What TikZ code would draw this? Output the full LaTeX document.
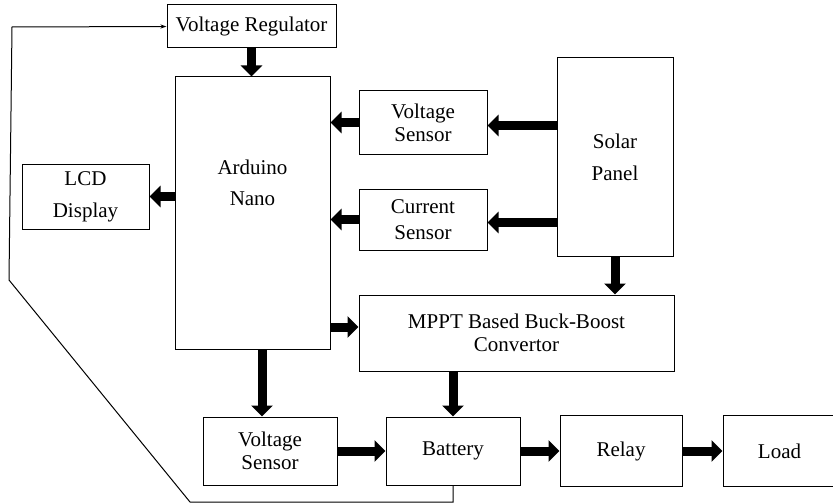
\documentclass[tikz,border=0pt]{standalone}
\usepackage{fontspec}
\setmainfont{Liberation Serif}
\usetikzlibrary{arrows.meta, positioning}

\begin{document}
\begin{tikzpicture}[x=1pt, y=-1pt, node distance=40pt]
    \tikzstyle{block} = [rectangle, draw=black, fill=white, line width=1pt, inner sep=0pt, align=center, font=\fontsize{21}{23}\selectfont]
    \tikzstyle{fat} = [line width=9pt, -{Triangle[width=21pt, length=11pt]}]
    \tikzstyle{feed} = [line width=1pt, -{Stealth[length=6pt, width=4pt]}]

    \useasboundingbox (0,0) rectangle (833,503);

    \node (vr) [block, minimum width=169pt, minimum height=43pt] at (251.5,26.5) {Voltage Regulator};
    \node (ard) [block, minimum width=155pt, minimum height=272pt, text depth=61pt] at (252.5,213) {Arduino\\[8pt]Nano};
    \node (lcd) [block, minimum width=127pt, minimum height=65pt] at (85.5,196.5) {LCD\\[9pt]Display};
    \node (vs1) [block, minimum width=128pt, minimum height=63pt] at (423,122.5) {Voltage\\Sensor};
    \node (cs) [block, minimum width=128pt, minimum height=61pt, below=34pt of vs1] {Current\\[3pt]Sensor};
    \node (sol) [block, minimum width=116pt, minimum height=198pt] at (615,157) {Solar\\[9pt]Panel};
    \node (mppt) [block, minimum width=315pt, minimum height=76pt] at (516.5,333) {MPPT Based Buck-Boost\\Convertor};

    \node (vs2) [block, minimum width=134pt, minimum height=68pt] at (270,451) {Voltage\\Sensor};
    \node (bat) [block, minimum width=134pt, minimum height=68pt, right=48pt of vs2] {Battery};
    \node (rel) [block, minimum width=122pt, minimum height=71pt, right=39pt of bat] {Relay};
    \node (load) [block, minimum width=120pt, minimum height=71pt, right=of rel] {\hspace*{-7pt}Load};

    % thick signal / power arrows
    \draw [fat] (vr.south) -- (vr.south |- ard.north);
    \draw [fat] ([yshift=-3pt]sol.west |- vs1.east) -- ([yshift=-3pt]vs1.east);
    \draw [fat] (vs1.west) -- (vs1.west -| ard.east);
    \draw [fat] ([yshift=-3pt]sol.west |- cs.east) -- ([yshift=-3pt]cs.east);
    \draw [fat] (cs.west) -- (cs.west -| ard.east);
    \draw [fat] (ard.west |- lcd.east) -- (lcd.east);
    \draw [fat] (sol.south) -- (sol.south |- mppt.north);
    \draw [fat] ([yshift=6pt]ard.east |- mppt.west) -- ([yshift=6pt]mppt.west);
    \draw [fat] ([xshift=-8pt]vs2.north |- ard.south) -- ([xshift=-8pt]vs2.north);
    \draw [fat] (bat.north |- mppt.south) -- (bat.north);
    \draw [fat] (vs2.east) -- (bat.west);
    \draw [fat] (bat.east) -- (rel.west);
    \draw [fat] (rel.east) -- (load.west);

    % feedback line
    \coordinate (fb1) at (190,502);
    \coordinate (fb2) at (9,280);
    \coordinate (fb3) at (12,27);
    \draw [feed] (bat.south) |- (fb1) -- (fb2) -- (fb3) -- (vr.west);
\end{tikzpicture}
\end{document}
